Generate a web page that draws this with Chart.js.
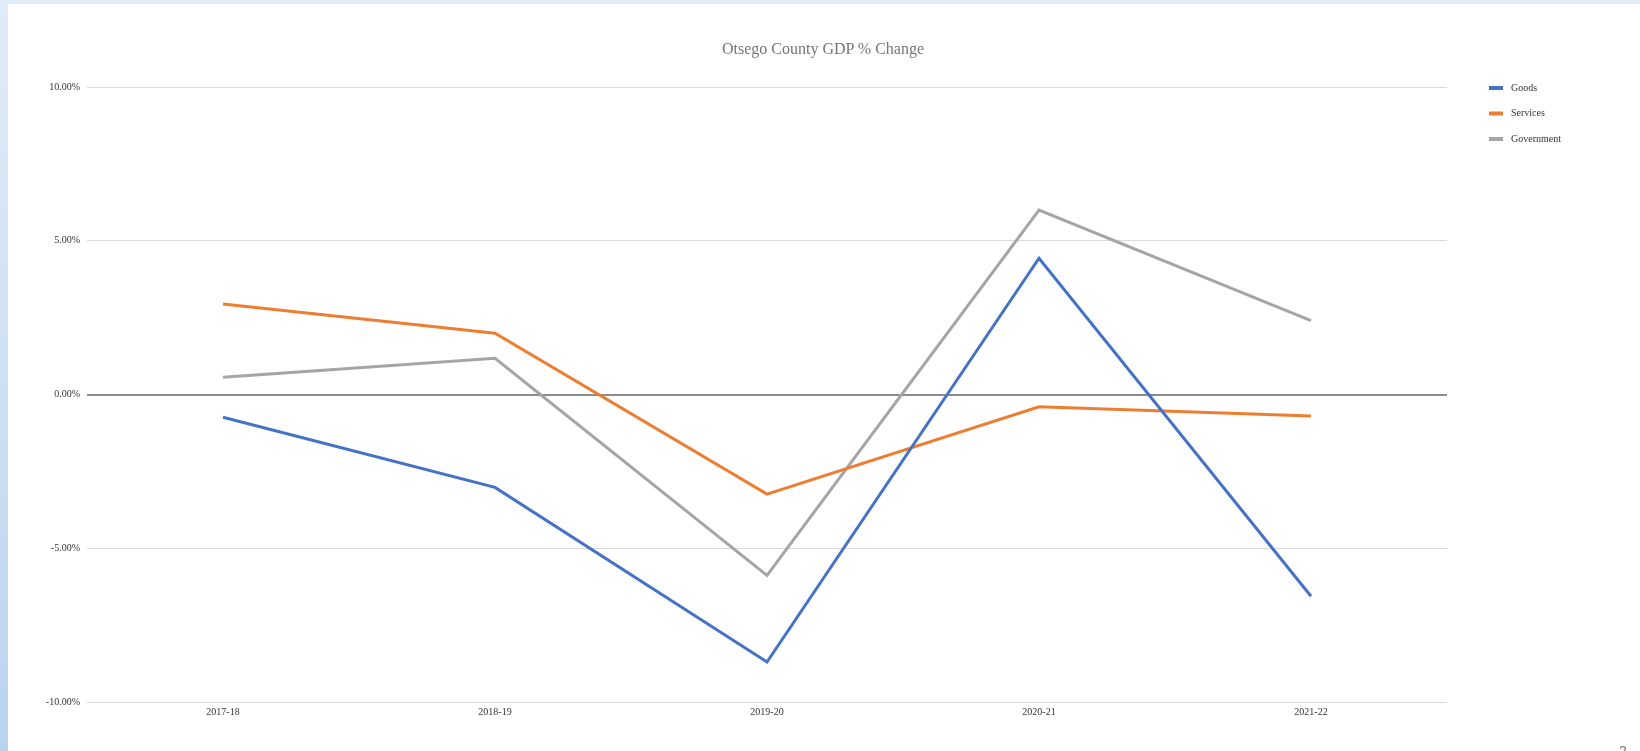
<!DOCTYPE html>
<html>
<head>
<meta charset="utf-8">
<script src="https://cdn.jsdelivr.net/npm/chart.js@4.4.1/dist/chart.umd.min.js"></script>
<style>
  html, body { margin: 0; padding: 0; }
  body {
    width: 1640px; height: 751px; overflow: hidden; position: relative;
    background: linear-gradient(180deg, #e0ebf7 0%, #cfe0f2 50%, #b9d3ee 100%);
  }
  #wrap {
    position: absolute; left: 8px; top: 4px; width: 1632px; height: 747px;
    background: #ffffff;
  }
  #title {
    position: absolute; left: 623px; width: 400px; top: 39px; text-align: center;
    font-family: "Liberation Serif", "Times New Roman", serif; font-size: 16px; color: #757575;
    line-height: 20px;
  }
  #pg {
    position: absolute; left: 1619px; top: 743px;
    font-family: "Liberation Sans", sans-serif; font-size: 14px; color: #777;
  }
</style>
</head>
<body>
<div id="wrap"><canvas id="mycanvas"></canvas></div>
<div id="title">Otsego County GDP % Change</div>
<div id="pg">2</div>
<script>
// chart data
var years = ["2017-18", "2018-19", "2019-20", "2020-21", "2021-22"];
var goods = [-0.74, -3.02, -8.70, 4.43, -6.56];
var services = [2.94, 1.99, -3.24, -0.40, -0.70];
var government = [0.56, 1.18, -5.88, 6.00, 2.40];
var yTicks = [-10, -5, 0, 5, 10];

var serif = "'Liberation Serif', 'Times New Roman', serif";

// legend drawn at the right side
var sideLegend = {
  id: 'sideLegend',
  afterDraw: function(chart) {
    var ctx = chart.ctx;
    ctx.save();
    ctx.font = "10px " + serif;
    ctx.textBaseline = "middle";
    chart.data.datasets.forEach(function(ds, i) {
      var y = 84 + i * 25.5;
      ctx.fillStyle = ds.borderColor;
      ctx.fillRect(1481, y - 2, 14, 4);
      ctx.fillStyle = "#333333";
      ctx.fillText(ds.label, 1503, y);
    });
    ctx.restore();
  }
};

var chartdata = {
  labels: years,
  datasets: [
    { label: 'Goods', data: goods, borderColor: '#4472c4', backgroundColor: '#4472c4' },
    { label: 'Services', data: services, borderColor: '#ed7d31', backgroundColor: '#ed7d31' },
    { label: 'Government', data: government, borderColor: '#a5a5a5', backgroundColor: '#a5a5a5' }
  ]
};

var ctx = document.getElementById("mycanvas");
var lineGraph = new Chart(ctx, {
  type: 'line',
  data: chartdata,
  options: {
    responsive: true,
    maintainAspectRatio: false,
    animation: false,
    layout: { padding: { left: 0, right: 193, top: 83, bottom: 0 } },
    elements: {
      line: { borderWidth: 3, tension: 0 },
      point: { radius: 0, hoverRadius: 0 }
    },
    plugins: {
      legend: { display: false },
      tooltip: { enabled: false },
      title: { display: false }
    },
    scales: {
      x: {
        offset: true,
        grid: { display: false, drawTicks: false },
        border: { display: false },
        ticks: { color: '#333333', font: { family: serif, size: 10 }, padding: 4, maxRotation: 0 },
        afterFit: function(scale) { scale.height = 49; }
      },
      y: {
        min: -10,
        max: 10,
        afterBuildTicks: function(scale) {
          scale.ticks = yTicks.map(function(v) { return { value: v }; });
        },
        grid: {
          drawTicks: false,
          color: function(c) { return c.tick && c.tick.value === 0 ? '#8c8c8c' : '#dadada'; },
          lineWidth: function(c) { return c.tick && c.tick.value === 0 ? 2 : 1; }
        },
        border: { display: false },
        ticks: {
          color: '#333333',
          font: { family: serif, size: 10 },
          padding: 7,
          callback: function(v) { return v.toFixed(2) + '%'; }
        },
        afterFit: function(scale) { scale.width = 79; }
      }
    }
  },
  plugins: [sideLegend]
});
</script>
</body>
</html>
